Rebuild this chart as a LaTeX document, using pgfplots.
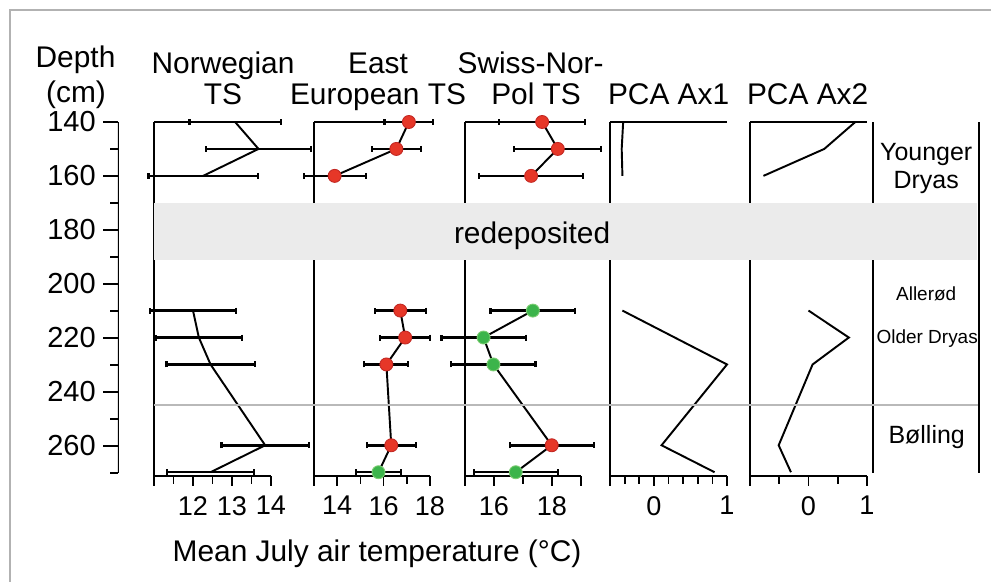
\documentclass[border=0pt]{standalone}
\usepackage{pgfplots}
\pgfplotsset{compat=1.18}
\usepackage{fontspec}
\setmainfont{Liberation Sans}

\definecolor{dotred}{RGB}{230,55,40}
\definecolor{dotredline}{RGB}{195,40,35}
\definecolor{dotgreen}{RGB}{60,180,75}
\definecolor{dotgreenline}{RGB}{125,205,115}
\definecolor{band}{RGB}{235,235,235}

\newcommand{\fs}[1]{\fontsize{#1}{#1}\selectfont}
\newcommand{\frameit}{\draw[line width=1.1pt] (rel axis cs:0,0) -- (rel axis cs:1,0) (rel axis cs:0,1) -- (rel axis cs:1,1) (rel axis cs:0,0) -- (rel axis cs:0,1);}

\pgfplotsset{
  panel/.style={
    scale only axis, height=7.08cm, width=2.34cm,
    anchor=north west, clip=false,
    ymin=140, ymax=271.4, y dir=reverse,
    axis line style={draw=none}, ytick=\empty,
    xtick pos=left, tick align=outside,
    major tick length=0.2cm, minor tick length=0.16cm,
    tick style={black, line width=1pt},
    xticklabel style={font=\fs{15.4}, inner sep=0pt, yshift=-0.2cm},
  },
  ebar/.style={black, line width=1.1pt, mark=none,
    error bars/.cd, x dir=both, x explicit,
    error bar style={black, line width=1.4pt},
    error mark=|,
    error mark options={black, mark size=1.7pt, line width=1.2pt}},
  reddot/.style={only marks, mark=*, mark size=3.7pt,
    mark options={fill=dotred, draw=dotredline, line width=0.5pt}},
  greendot/.style={only marks, mark=*, mark size=3.7pt,
    mark options={fill=dotgreen, draw=dotgreenline, line width=0.5pt}},
}

\begin{document}
\begin{tikzpicture}
\path[use as bounding box, fill=white] (0,0) rectangle (19.82cm,11.64cm);

% depth axis
\begin{axis}[scale only axis, anchor=north west, at={(2.36cm,9.2cm)},
  width=1pt, height=7.02cm, xmin=0, xmax=1,
  ymin=140, ymax=270, y dir=reverse,
  axis line style={draw=none}, xtick=\empty,
  ytick={140,160,180,200,220,240,260},
  yticklabels={140,160,180,200,220,240,260},
  minor ytick={150,170,190,210,230,250,270},
  ytick pos=left, tick align=outside,
  major tick length=0.3cm, minor tick length=0.16cm,
  tick style={black, line width=1pt},
  yticklabel style={font=\fs{16.5}, inner sep=0pt, anchor=east, xshift=-0.14cm}]
\draw[line width=1.1pt] (rel axis cs:0,0) -- (rel axis cs:0,1);
\end{axis}

% Norwegian TS
\begin{axis}[panel, at={(3.08cm,9.2cm)}, xmin=11, xmax=14,
  xtick={11,12,13,14}, xticklabels={,12,13,14},
  minor xtick={11.5,12.5,13.5}]
\frameit
\addplot[ebar] coordinates {
  (13.08,140) +- (1.17,0)
  (13.68,150) +- (1.34,0)
  (12.26,160) +- (1.40,0)
};
\addplot[ebar] coordinates {
  (12.00,210) +- (1.11,0)
  (12.15,220) +- (1.10,0)
  (12.45,230) +- (1.13,0)
  (13.85,260) +- (1.12,0)
  (12.45,270) +- (1.12,0)
};
\end{axis}

% East European TS
\begin{axis}[panel, at={(6.28cm,9.2cm)}, width=2.32cm, xmin=13, xmax=18,
  xtick={13,14,16,18}, xticklabels={,14,16,18},
  minor xtick={15,17}]
\frameit
\addplot[ebar] coordinates {
  (17.09,140) +- (1.05,0)
  (16.55,150) +- (1.05,0)
  (13.89,160) +- (1.34,0)
};
\addplot[ebar] coordinates {
  (16.72,210) +- (1.10,0)
  (16.93,220) +- (1.07,0)
  (16.12,230) +- (0.95,0)
  (16.33,260) +- (1.06,0)
  (15.78,270) +- (0.97,0)
};
\addplot[reddot] coordinates {
  (17.09,140) (16.55,150) (13.89,160)
  (16.72,210) (16.93,220) (16.12,230) (16.33,260)
};
\addplot[greendot] coordinates {(15.78,270)};
\end{axis}

% Swiss-Nor-Pol TS
\begin{axis}[panel, at={(9.3cm,9.2cm)}, width=2.32cm, xmin=15, xmax=19,
  xtick={15,16,18,19}, xticklabels={,16,18,},
  minor xtick={17}]
\frameit
\addplot[ebar] coordinates {
  (17.66,140) +- (1.48,0)
  (18.20,150) +- (1.50,0)
  (17.28,160) +- (1.80,0)
};
\addplot[ebar] coordinates {
  (17.34,210) +- (1.46,0)
  (15.64,220) +- (1.45,0)
  (15.98,230) +- (1.45,0)
  (17.99,260) +- (1.45,0)
  (16.75,270) +- (1.45,0)
};
\addplot[reddot] coordinates {
  (17.66,140) (18.20,150) (17.28,160) (17.99,260)
};
\addplot[greendot] coordinates {
  (17.34,210) (15.64,220) (15.98,230) (16.75,270)
};
\end{axis}

% PCA Ax1
\begin{axis}[panel, at={(12.2cm,9.2cm)}, xmin=-0.6, xmax=1,
  xtick={-0.6,0,1}, xticklabels={,0,1},
  minor xtick={-0.4,-0.2,0.2,0.4,0.6,0.8}]
\frameit
\addplot[black, line width=1.1pt] coordinates {
  (-0.42,140) (-0.44,150) (-0.43,160)
};
\addplot[black, line width=1.1pt] coordinates {
  (-0.43,210) (1.00,230) (0.105,260) (0.83,270)
};
\end{axis}

% PCA Ax2
\begin{axis}[panel, at={(15.0cm,9.2cm)}, xmin=-1, xmax=1,
  xtick={-1,0,1}, xticklabels={,0,1},
  minor xtick={-0.5,0.5}]
\frameit
\addplot[black, line width=1.1pt] coordinates {
  (0.80,140) (0.27,150) (-0.77,160)
};
\addplot[black, line width=1.1pt] coordinates {
  (0.00,210) (0.69,220) (0.07,230) (-0.51,260) (-0.30,270)
};
\end{axis}

% annotations in picture pixels (origin top left)
\begin{scope}[shift={(0,11.64cm)}, x=0.02cm, y=-0.02cm]
\draw[gray!60, line width=0.6pt] (10,582) -- (10,10) -- (991,10);
% zone column
\draw[line width=1.1pt] (873,122) -- (873,473);
% redeposited band and zone boundary
\fill[band] (154,203) rectangle (977,260);
\draw[gray!55, line width=1pt] (154,405) -- (978,405);
\draw[line width=1.1pt] (979,122) -- (979,473);

\node[anchor=base, inner sep=0pt, font=\fs{17}] at (532,243) {redeposited};

% titles
\begin{scope}[every node/.style={anchor=base, inner sep=0pt, font=\fs{17}}]
\node at (75.5,67) {Depth};
\node at (76,102) {(cm)};
\node at (223,73) {Norwegian};
\node at (223,104) {TS};
\node at (378,73) {East};
\node at (378,104) {European TS};
\node at (530.5,73) {Swiss-Nor-};
\node at (536,104) {Pol TS};
\node at (668.5,104) {PCA Ax1};
\node at (807.5,104) {PCA Ax2};
\node at (377,561) {Mean July air temperature (°C)};
\end{scope}

% zones
\begin{scope}[every node/.style={anchor=base, inner sep=0pt}]
\node[font=\fs{14.2}] at (926,160) {Younger};
\node[font=\fs{14.2}] at (926,188) {Dryas};
\node[font=\fs{10.8}] at (926,300) {Allerød};
\node[font=\fs{10.8}] at (927,343) {Older Dryas};
\node[font=\fs{14.2}] at (926.5,443) {Bølling};
\end{scope}
\end{scope}
\end{tikzpicture}
\end{document}
